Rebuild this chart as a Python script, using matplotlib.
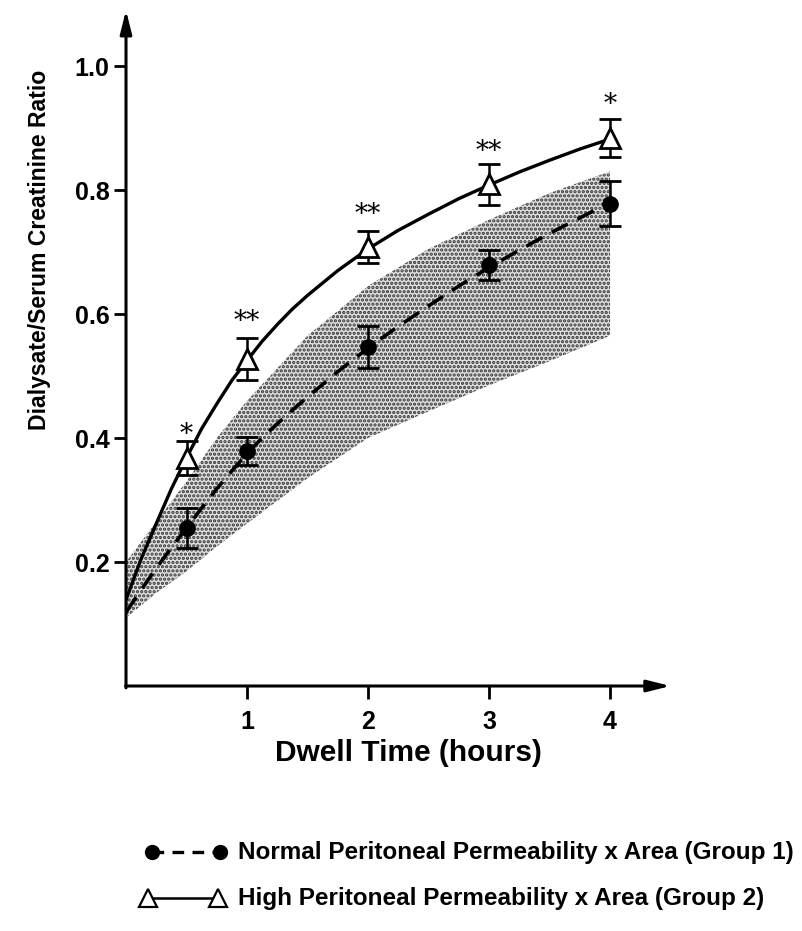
import matplotlib
matplotlib.use("Agg")
import matplotlib.pyplot as plt
from matplotlib.lines import Line2D

FONT = ["Liberation Sans", "DejaVu Sans"]
plt.rcParams["font.family"] = FONT
plt.rcParams["hatch.linewidth"] = 1.6

W, H = 803, 931

# measured points (hours, D/S creatinine ratio)
times = [0.5, 1, 2, 3, 4]
group1_mean = [0.255, 0.379, 0.547, 0.679, 0.778]
group1_err = [0.032, 0.023, 0.034, 0.024, 0.036]
group2_mean = [0.368, 0.527, 0.708, 0.809, 0.884]
group2_err = [0.027, 0.034, 0.026, 0.033, 0.030]
stars = ["*", "**", "**", "**", "*"]
star_y = [0.405, 0.588, 0.760, 0.862, 0.938]

# fitted curves
curve_t = [0, 0.125, 0.25, 0.375, 0.5, 0.625, 0.75, 0.875, 1, 1.125, 1.25, 1.375, 1.5,
           1.75, 2, 2.25, 2.5, 2.75, 3, 3.25, 3.5, 3.75, 3.95]
curve_group1 = [0.119, 0.155, 0.19, 0.223, 0.255, 0.287, 0.318, 0.347, 0.375, 0.400, 0.423,
                0.445, 0.466, 0.507, 0.545, 0.580, 0.613, 0.645, 0.675, 0.703, 0.730,
                0.755, 0.775]
curve_group2 = [0.139, 0.205, 0.262, 0.318, 0.368, 0.415, 0.455, 0.493, 0.525, 0.556, 0.583,
                0.608, 0.630, 0.670, 0.705, 0.735, 0.761, 0.786, 0.808, 0.829, 0.848,
                0.866, 0.879]

# normal range band
band_t = [0, 0.25, 0.5, 0.75, 1, 1.5, 2, 2.5, 3, 3.5, 4]
band_upper = [0.20, 0.265, 0.33, 0.40, 0.46, 0.565, 0.645, 0.705, 0.752, 0.795, 0.83]
band_lower = [0.11, 0.15, 0.185, 0.225, 0.262, 0.335, 0.40, 0.443, 0.485, 0.524, 0.565]

xticks = [1, 2, 3, 4]
yticks = [0.2, 0.4, 0.6, 0.8, 1.0]
legend_labels = [
    "Normal Peritoneal Permeability x Area (Group 1)",
    "High Peritoneal Permeability x Area (Group 2)",
]


def px(x, y):
    return x / W, 1 - y / H


fig = plt.figure(figsize=(W / 100, H / 100), dpi=100)
ax = fig.add_axes([126 / W, 1 - 686 / H, 550 / W, 682 / H])
ax.set_xlim(0, 4.545)
ax.set_ylim(0, 1.1)
for side in ["top", "right", "left", "bottom"]:
    ax.spines[side].set_visible(False)

ax.fill_between(band_t, band_lower, band_upper, facecolor="#e0e0e0",
                edgecolor="#333333", hatch="....", linewidth=0, zorder=1)

ax.plot(curve_t, curve_group2, color="black", lw=2.4, zorder=3, solid_joinstyle="round")
ax.plot(curve_t, curve_group1, color="black", lw=2.6, zorder=3, dashes=(5, 3))

ax.errorbar(times, group1_mean, yerr=group1_err, fmt="none", ecolor="black",
            elinewidth=1.8, capsize=8, capthick=2, zorder=4)
ax.errorbar(times, group2_mean, yerr=group2_err, fmt="none", ecolor="black",
            elinewidth=1.8, capsize=8, capthick=2, zorder=4)
ax.plot(times, group1_mean, "o", color="black", ms=11, zorder=5)
ax.plot(times, group2_mean, "^", mfc="white", mec="black", mew=2, ms=15, zorder=5)

for t, s, y in zip(times, stars, star_y):
    ax.text(t, y, s, ha="center", va="center", fontsize=19, family="DejaVu Serif")

# axes with arrows
arrow = dict(arrowstyle="-|>,head_length=1.4,head_width=0.35", lw=2.2, color="black",
             shrinkA=0, shrinkB=0)
ax.annotate("", xy=(0, 1.09), xytext=(0, -0.003), arrowprops=arrow, annotation_clip=False)
ax.annotate("", xy=(4.5, 0), xytext=(-0.003, 0), arrowprops=arrow, annotation_clip=False)

ax.set_xticks(xticks)
ax.set_xticklabels([str(v) for v in xticks])
ax.set_yticks(yticks)
ax.set_yticklabels([f"{v:.1f}" for v in yticks])
ax.tick_params(axis="x", length=9, width=2, pad=8, labelsize=18)
ax.tick_params(axis="y", length=9, width=2, pad=3, labelsize=18)
for lab in ax.get_xticklabels() + ax.get_yticklabels():
    lab.set_fontweight("bold")

fig.text(*px(40, 250), "Dialysate/Serum Creatinine Ratio", rotation=90, ha="center",
         va="center", fontsize=16.6, fontweight="bold")
fig.text(*px(408, 753), "Dwell Time (hours)", ha="center", va="center",
         fontsize=21.5, fontweight="bold")

# legend drawn by hand
row_y = [852, 898]
x0, x1 = 152, 220
fig.add_artist(Line2D([x0 / W, x1 / W], [1 - row_y[0] / H] * 2, transform=fig.transFigure,
                      color="black", lw=2.4, dashes=(3.5, 2.5)))
fig.add_artist(Line2D([x0 / W, x1 / W], [1 - row_y[0] / H] * 2, transform=fig.transFigure,
                      ls="none", marker="o", ms=10, color="black"))
fig.add_artist(Line2D([148 / W, 218 / W], [1 - row_y[1] / H] * 2, transform=fig.transFigure,
                      color="black", lw=1.8))
fig.add_artist(Line2D([148 / W, 218 / W], [1 - row_y[1] / H] * 2, transform=fig.transFigure,
                      ls="none", marker="^", ms=13, mfc="white", mec="black", mew=1.6))
for y, label in zip(row_y, legend_labels):
    fig.text(*px(238, y), label, ha="left", va="center", fontsize=17.5, fontweight="bold")

fig.savefig("out.png", dpi=100)
